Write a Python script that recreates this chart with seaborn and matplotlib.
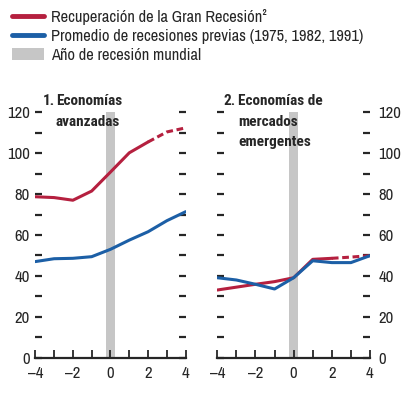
import numpy as np
import pandas as pd
import matplotlib
matplotlib.use("Agg")
import matplotlib.pyplot as plt
from matplotlib.lines import Line2D
from matplotlib.patches import Patch
import seaborn as sns

# datos
years = [-4, -3, -2, -1, 0, 1, 2, 3, 4]
adv_great = [78.7, 78.3, 77.0, 81.5, 90.8, 100.2, 105.5, 110.4, 112.4]
adv_prev = [47.0, 48.4, 48.6, 49.4, 53.0, 57.5, 61.6, 67.0, 71.4]
em_great = [33.1, 34.5, 35.9, 37.2, 39.1, 48.1, 48.6, 49.2, 49.9]
em_prev = [39.1, 38.0, 35.9, 33.6, 39.1, 47.4, 46.5, 46.5, 49.9]
proj_from = 2  # desde aqui la linea roja es proyeccion (discontinua)

labels = ["Recuperación de la Gran Recesión²",
          "Promedio de recesiones previas (1975, 1982, 1991)",
          "Año de recesión mundial"]
titles = [("1.", "Economías\navanzadas"),
          ("2.", "Economías de\nmercados\nemergentes")]
xticklabels = ["\u20134", "", "\u20132", "", "0", "", "2", "", "4"]
yticklabels = ["0", "", "20", "", "40", "", "60", "", "80", "", "100", "", "120"]

red = "#b5203f"
blue = "#1c5fa6"
grey = "#c6c6c6"
bold_family = ["Roboto Condensed", "Archivo Narrow", "DejaVu Sans"]

sns.set_style("ticks")
plt.rcParams["font.family"] = ["Archivo Narrow", "Roboto Condensed", "DejaVu Sans"]
plt.rcParams["font.size"] = 11

fig = plt.figure(figsize=(4.10, 3.98), dpi=100)
ax1 = fig.add_axes([35.3 / 410, 40.3 / 398, 150.4 / 410, 245.4 / 398])
ax2 = fig.add_axes([217.3 / 410, 40.3 / 398, 152.7 / 410, 245.4 / 398])


def draw_panel(ax, great, prev, side):
    df = pd.DataFrame({"x": years, "great": great, "prev": prev})
    ax.axvspan(-0.23, 0.23, color=grey, lw=0, zorder=0)
    sns.lineplot(data=df, x="x", y="prev", ax=ax, color=blue, lw=2.2, zorder=3)
    solid = df[df["x"] <= proj_from]
    dashed = df[df["x"] >= proj_from]
    sns.lineplot(data=solid, x="x", y="great", ax=ax, color=red, lw=2.2, zorder=2)
    sns.lineplot(data=dashed, x="x", y="great", ax=ax, color=red, lw=2.2,
                 ls=(0, (2.2, 1.2)), zorder=2)
    ax.set_xlim(-4, 4)
    ax.set_ylim(0, 120)
    ax.set_xlabel("")
    ax.set_ylabel("")
    ax.set_xticks(years)
    ax.set_xticklabels(xticklabels)
    ax.set_yticks(range(0, 121, 10))
    ax.set_yticklabels(yticklabels)
    for s in ["left", "right", "top"]:
        ax.spines[s].set_visible(False)
    ax.spines["bottom"].set_linewidth(1.6)
    ax.tick_params(axis="x", direction="in", length=5.5, width=1.3, pad=6,
                   labelsize=12)
    ax.tick_params(axis="y", direction="in", length=5, width=1.6, left=True,
                   right=True, labelleft=(side == "left"),
                   labelright=(side == "right"), pad=4 if side == "left" else 6,
                   labelsize=12)
    ax.set_facecolor("none")


draw_panel(ax1, adv_great, adv_prev, "left")
draw_panel(ax2, em_great, em_prev, "right")

# titulos de los paneles
for (num, txt), x0, x1 in [(titles[0], 43, 56), (titles[1], 224, 238)]:
    fig.text(x0 / 410, 1 - 94 / 398, num, fontsize=11, fontweight="bold",
             family=bold_family, va="top", ha="left")
    fig.text(x1 / 410, 1 - 94 / 398, txt, fontsize=11, fontweight="bold",
             family=bold_family, va="top", ha="left", linespacing=1.6)

handles = [Line2D([], [], color=red, lw=3.5),
           Line2D([], [], color=blue, lw=3.5),
           Patch(facecolor=grey, edgecolor="none")]
fig.legend(handles, labels, loc="upper left", bbox_to_anchor=(5 / 410, 1 - 2 / 398),
           frameon=False, fontsize=11.8, handlelength=2.0, handleheight=0.7,
           handletextpad=0.4, labelspacing=0.25, borderaxespad=0)

fig.savefig("out.png", dpi=100)
